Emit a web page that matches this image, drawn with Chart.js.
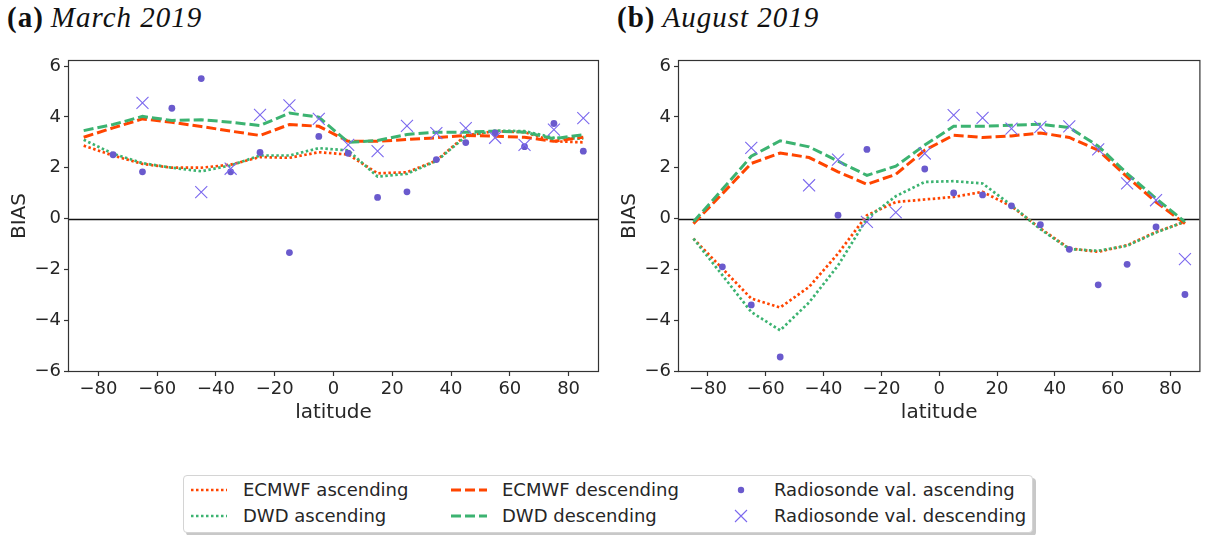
<!DOCTYPE html>
<html>
<head>
<meta charset="utf-8">
<script src="https://cdn.jsdelivr.net/npm/chart.js@4.4.1/dist/chart.umd.min.js"></script>
<style>
    body { margin: 0; background: #fff; width: 1209px; height: 535px; overflow: hidden; position: relative; font-family: 'DejaVu Sans', sans-serif; color: #262626; }
    .panel-title { position: absolute; top: 1px; font-family: 'Liberation Serif', serif; font-size: 29px; line-height: 32px; letter-spacing: 1px; color: #111; white-space: nowrap; }
    .panel-title b { font-weight: bold; }
    .panel-title i { font-style: italic; margin-left: 7px; }
    .plot { position: absolute; top: 0; height: 440px; }
    .legend-box { position: absolute; left: 183px; top: 475px; width: 850px; height: 58px; border: 1px solid #d4d4d4; border-radius: 4px; box-sizing: border-box; box-shadow: 3px 3px 0 #c8c8c8; background: #fff; }
    .lg { position: absolute; height: 20px; line-height: 20px; font-size: 18px; white-space: nowrap; }
    .lg svg { display: block; }
</style>
</head>
<body>
<div class="panel-title" style="left:7px"><b>(a)</b><i>March 2019</i></div>
<div class="panel-title" style="left:617px"><b>(b)</b><i>August 2019</i></div>

<div class="plot" style="left:0; width:610px"><canvas id="chartMar"></canvas></div>
<div class="plot" style="left:610px; width:599px"><canvas id="chartAug"></canvas></div>

<div class="legend-box"></div>
<div class="lg" style="left:191px; top:480px"><svg width="36" height="20"><line x1="0" y1="10" x2="36" y2="10" stroke="#ff4500" stroke-width="2.7" stroke-dasharray="2.5 2.5"/></svg></div>
<div class="lg" style="left:243px; top:480px">ECMWF ascending</div>
<div class="lg" style="left:191px; top:506px"><svg width="36" height="20"><line x1="0" y1="10" x2="36" y2="10" stroke="#3cb371" stroke-width="2.7" stroke-dasharray="2.5 2.5"/></svg></div>
<div class="lg" style="left:243px; top:506px">DWD ascending</div>
<div class="lg" style="left:451px; top:480px"><svg width="36" height="20"><line x1="0" y1="10" x2="36" y2="10" stroke="#ff4500" stroke-width="3" stroke-dasharray="10 4"/></svg></div>
<div class="lg" style="left:502px; top:480px">ECMWF descending</div>
<div class="lg" style="left:451px; top:506px"><svg width="36" height="20"><line x1="0" y1="10" x2="36" y2="10" stroke="#3cb371" stroke-width="3" stroke-dasharray="10 4"/></svg></div>
<div class="lg" style="left:502px; top:506px">DWD descending</div>
<div class="lg" style="left:731px; top:480px"><svg width="20" height="20"><circle cx="10" cy="10" r="3.2" fill="#6a5acd"/></svg></div>
<div class="lg" style="left:774px; top:480px">Radiosonde val. ascending</div>
<div class="lg" style="left:731px; top:506px"><svg width="20" height="20"><path d="M4 4 L16 16 M16 4 L4 16" stroke="#7b68ee" stroke-width="1.1"/></svg></div>
<div class="lg" style="left:774px; top:506px">Radiosonde val. descending</div>

<script>
const lats = [-85, -75, -65, -55, -45, -35, -25, -15, -5, 5, 15, 25, 35, 45, 55, 65, 75, 85];
const xTicks = [-80, -60, -40, -20, 0, 20, 40, 60, 80];
const yTicks = [-6, -4, -2, 0, 2, 4, 6];

// (a) March 2019
const marEcmwfAsc = [2.87, 2.48, 2.15, 2.0, 2.0, 2.12, 2.42, 2.39, 2.61, 2.52, 1.78, 1.82, 2.28, 3.27, 3.44, 3.4, 3.04, 3.0];
const marDwdAsc = [3.1, 2.55, 2.18, 2.0, 1.86, 2.09, 2.48, 2.48, 2.77, 2.68, 1.65, 1.76, 2.26, 3.23, 3.46, 3.44, 3.18, 3.14];
const marEcmwfDesc = [3.2, 3.57, 3.92, 3.79, 3.62, 3.44, 3.27, 3.7, 3.63, 3.04, 3.04, 3.11, 3.18, 3.27, 3.24, 3.2, 3.04, 3.2];
const marDwdDesc = [3.46, 3.7, 4.02, 3.86, 3.89, 3.79, 3.66, 4.15, 3.99, 3.0, 3.07, 3.31, 3.4, 3.4, 3.44, 3.4, 3.14, 3.3];
const marRadAsc = [null, 2.51, 1.84, 4.34, 5.51, 1.84, 2.6, -1.34, 3.23, 2.57, 0.83, 1.05, 2.32, 2.99, 3.37, 2.83, 3.74, 2.65];
const marRadDesc = [null, null, 4.55, null, 1.04, 1.96, 4.08, 4.45, 3.92, 2.9, 2.65, 3.65, 3.36, 3.56, 3.18, 2.9, 3.5, 3.95];

// (b) August 2019
const augEcmwfAsc = [-0.79, -1.97, -3.15, -3.5, -2.69, -1.38, 0.13, 0.65, 0.75, 0.85, 1.05, 0.48, -0.39, -1.18, -1.31, -1.05, -0.53, -0.13];
const augDwdAsc = [-0.79, -2.23, -3.68, -4.4, -3.3, -1.85, 0.0, 0.88, 1.44, 1.47, 1.38, 0.52, -0.42, -1.2, -1.27, -1.07, -0.55, -0.12];
const augEcmwfDesc = [-0.2, 0.98, 2.17, 2.58, 2.4, 1.84, 1.35, 1.74, 2.69, 3.28, 3.19, 3.25, 3.37, 3.19, 2.69, 1.64, 0.65, -0.2];
const augDwdDesc = [-0.13, 1.15, 2.45, 3.06, 2.82, 2.26, 1.7, 2.06, 2.89, 3.63, 3.63, 3.67, 3.71, 3.58, 2.85, 1.77, 0.79, -0.13];
const augRadAsc = [null, -1.9, -3.4, -5.45, null, 0.13, 2.72, null, 1.95, 1.01, 0.93, 0.5, -0.24, -1.21, -2.61, -1.8, -0.33, -2.99];
const augRadDesc = [null, null, 2.78, null, 1.31, 2.32, -0.13, 0.24, 2.56, 4.07, 3.96, 3.54, 3.61, 3.63, 2.72, 1.38, 0.72, -1.6];

const ORANGE = '#ff4500';
const GREEN = '#3cb371';

Chart.defaults.font.family = "'DejaVu Sans', sans-serif";
Chart.defaults.color = '#262626';

function toPoints(values) {
    return lats.map((lat, i) => ({ x: lat, y: values[i] })).filter(p => p.y !== null);
}

function lineSet(label, values, color, dash, width, order) {
    return {
        type: 'line',
        label: label,
        data: toPoints(values),
        borderColor: color,
        borderWidth: width,
        borderDash: dash,
        borderCapStyle: 'butt',
        pointRadius: 0,
        tension: 0,
        fill: false,
        order: order
    };
}

// frame around the axes and the zero line
const framePlugin = {
    id: 'frame',
    beforeDatasetsDraw(chart) {
        const { ctx, chartArea } = chart;
        const y0 = Math.round(chart.scales.y.getPixelForValue(0)) + 0.5;
        ctx.save();
        ctx.strokeStyle = '#111';
        ctx.lineWidth = 1.4;
        ctx.beginPath();
        ctx.moveTo(chartArea.left, y0);
        ctx.lineTo(chartArea.right, y0);
        ctx.stroke();
        ctx.restore();
    },
    afterDatasetsDraw(chart) {
        const { ctx, chartArea } = chart;
        ctx.save();
        ctx.strokeStyle = '#333';
        ctx.lineWidth = 1.2;
        ctx.strokeRect(chartArea.left - 0.5, chartArea.top - 0.5,
            chartArea.right - chartArea.left + 1, chartArea.bottom - chartArea.top + 1);
        ctx.restore();
    }
};

const minusSign = v => String(v).replace('-', '\u2212');

function createChart(id, rightPad, s) {
    const ctx = document.getElementById(id).getContext('2d');
    return new Chart(ctx, {
        type: 'scatter',
        data: {
            datasets: [
                lineSet('ECMWF ascending', s.ecmwfAsc, ORANGE, [2.5, 2.5], 2.7, 6),
                lineSet('DWD ascending', s.dwdAsc, GREEN, [2.5, 2.5], 2.7, 5),
                lineSet('ECMWF descending', s.ecmwfDesc, ORANGE, [10, 4], 3, 4),
                lineSet('DWD descending', s.dwdDesc, GREEN, [10, 4], 3, 3),
                {
                    label: 'Radiosonde val. ascending',
                    data: toPoints(s.radAsc),
                    pointStyle: 'circle',
                    pointRadius: 3.4,
                    backgroundColor: '#6a5acd',
                    borderWidth: 0,
                    order: 2
                },
                {
                    label: 'Radiosonde val. descending',
                    data: toPoints(s.radDesc),
                    pointStyle: 'crossRot',
                    pointRadius: 8.5,
                    borderColor: '#7b68ee',
                    borderWidth: 1.1,
                    order: 1
                }
            ]
        },
        options: {
            responsive: true,
            maintainAspectRatio: false,
            animation: false,
            layout: { padding: { top: 61, right: rightPad, left: 0, bottom: 0 } },
            scales: {
                x: {
                    type: 'linear',
                    min: -90,
                    max: 90,
                    afterBuildTicks: scale => { scale.ticks = xTicks.map(v => ({ value: v })); },
                    afterFit: scale => { scale.height = 69; },
                    grid: { display: true, drawOnChartArea: false, drawTicks: true, tickLength: 5, tickColor: '#333', tickWidth: 1.2 },
                    border: { display: false },
                    ticks: { font: { size: 18 }, padding: 3, maxRotation: 0, callback: minusSign },
                    title: { display: true, text: 'latitude', font: { size: 20 }, padding: { bottom: 15 } }
                },
                y: {
                    min: -6,
                    max: 6.2,
                    afterBuildTicks: scale => { scale.ticks = yTicks.map(v => ({ value: v })); },
                    afterFit: scale => { scale.width = 69; },
                    grid: { display: true, drawOnChartArea: false, drawTicks: true, tickLength: 5, tickColor: '#333', tickWidth: 1.2 },
                    border: { display: false },
                    ticks: { font: { size: 18 }, padding: 3, callback: minusSign },
                    title: { display: true, text: 'BIAS', font: { size: 20 }, padding: { top: 8 } }
                }
            },
            plugins: {
                legend: { display: false },
                title: { display: false },
                tooltip: { enabled: false }
            }
        },
        plugins: [framePlugin]
    });
}

document.addEventListener('DOMContentLoaded', () => {
    createChart('chartMar', 12, {
        ecmwfAsc: marEcmwfAsc, dwdAsc: marDwdAsc,
        ecmwfDesc: marEcmwfDesc, dwdDesc: marDwdDesc,
        radAsc: marRadAsc, radDesc: marRadDesc
    });
    createChart('chartAug', 1, {
        ecmwfAsc: augEcmwfAsc, dwdAsc: augDwdAsc,
        ecmwfDesc: augEcmwfDesc, dwdDesc: augDwdDesc,
        radAsc: augRadAsc, radDesc: augRadDesc
    });
});
</script>
</body>
</html>
